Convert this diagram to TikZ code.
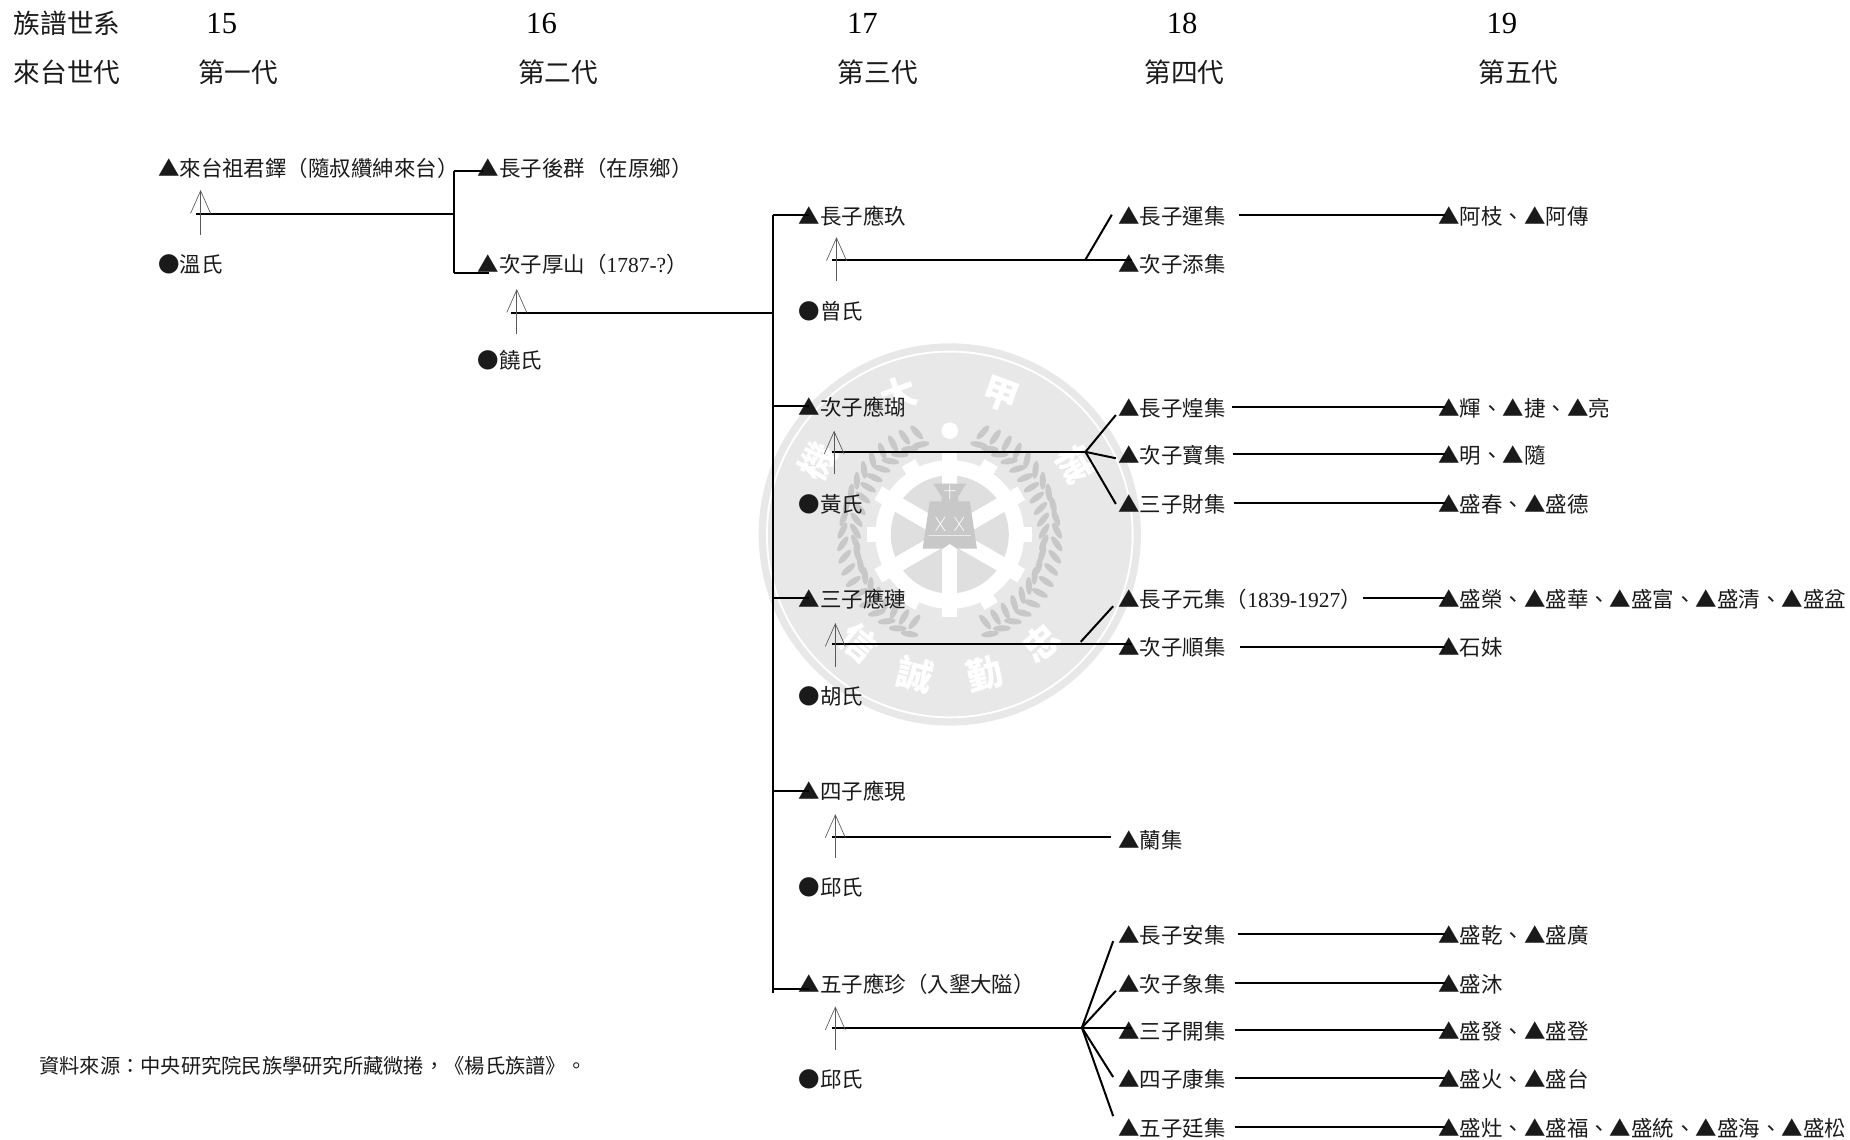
\documentclass[tikz,border=0pt]{standalone}
\usepackage{fontspec}
\usetikzlibrary{arrows.meta}
\setmainfont{Noto Sans CJK TC}
\newfontfamily\serifdigits{Liberation Serif}
\newcommand{\tri}{▲}
\newcommand{\dotm}{●}
\newcommand{\dg}[1]{{\serifdigits #1}}
\newcommand{\lpar}{^^^^ff08}
\newcommand{\rpar}{^^^^ff09}
\newcommand{\fcolon}{^^^^ff1a}
\newcommand{\fcomma}{^^^^ff0c}
\definecolor{sealbg}{HTML}{E8E8E8}
\definecolor{sealmid}{HTML}{DFDFDF}
\definecolor{sealdark}{HTML}{C8C8C8}
\definecolor{ink}{HTML}{1A1A1A}
\tikzset{
  lab/.style={anchor=west,inner sep=0pt,outer sep=0pt,text height=16pt,text depth=1.9pt,text=ink,font=\fontsize{16.1}{16.1}\selectfont},
  head/.style={anchor=center,inner sep=0pt,text=ink,font=\fontsize{20}{20}\selectfont},
  num/.style={anchor=center,inner sep=0pt,text=black,font=\fontsize{23}{23}\serifdigits},
  note/.style={anchor=west,inner sep=0pt,text=ink,font=\fontsize{15.2}{15.2}\selectfont},
  link/.style={draw=black,line width=1.5pt},
  spouse/.style={draw=black!65,line width=0.6pt,-{Straight Barb[length=17pt,width=15pt,line width=0.5pt]}},
  sealtxt/.style={inner sep=0pt,text=white,font=\fontsize{27}{27}\bfseries\selectfont},
  leaf/.style={fill=sealdark,draw=none}
}
\newcommand{\famlink}[3]{\draw[link] ([xshift=#3*0.885pt]#1.east) -- ([xshift=5pt]#2.west);}
\begin{document}
\begin{tikzpicture}[x=0.8849pt,y=-0.8849pt]
\useasboundingbox (0,0) rectangle (1568,965.4);
% seal watermark
\begin{scope}[shift={(805,453)},yscale=-1]
  \fill[sealbg] (0,0) circle (162);
  \draw[white,line width=1.4pt] (0,0) circle (155);
  % wreath
  \foreach \t in {108,115,...,248}{
    \foreach \s in {1,-1}{
      \pgfmathsetmacro{\a}{\s>0?\t:180-\t}
      \pgfmathsetmacro{\rotA}{\a-\s*60}
      \pgfmathsetmacro{\rotB}{\a-\s*120}
      \fill[leaf,shift={(\a:91)},rotate=\rotA] (0,0) ellipse (7.5 and 2.6);
      \fill[leaf,shift={(\a:80)},rotate=\rotB] (0,0) ellipse (7.5 and 2.6);
    }
  }
  \fill[white] (90:88) circle (7);
  % gear
  \foreach \g in {0,30,...,330}{
    \fill[white,rotate=\g] (58,-6.5) rectangle (70,6.5);
  }
  \fill[white] (0,0) circle (63);
  \fill[sealmid] (0,0) circle (50);
  \foreach \g in {30,90,...,330}{
    \fill[white,rotate=\g] (0,-6.5) rectangle (52,6.5);
  }
  % weight
  \fill[sealdark] (-14,43) -- (14,43) -- (7,32) -- (7,28) -- (17,28) -- (23,-12) -- (6,-12) -- (0,-8) -- (-6,-12) -- (-23,-12) -- (-17,28) -- (-7,28) -- (-7,32) -- cycle;
  \draw[white,line width=0.5pt] (0,42) -- (0,30) (-5,37) -- (5,37) (-18,-1) -- (18,-1) (-12,15) -- (-4,3) (-4,15) -- (-12,3) (4,15) -- (12,3) (12,15) -- (4,3);
  % seal characters
  \node[sealtxt,rotate=20] (sa) at (110:126) {大};
  \node[sealtxt,rotate=-20] (sb) at (70:126) {甲};
  \node[sealtxt,rotate=60] (sc) at (151:128) {機};
  \node[sealtxt,rotate=-60] (sd) at (29:122) {械};
  \node[sealtxt,rotate=-40] (se) at (230:120) {信};
  \node[sealtxt,rotate=-14] (sf) at (256:122) {誠};
  \node[sealtxt,rotate=14] (sg) at (284:122) {勤};
  \node[sealtxt,rotate=40] (sh) at (310:120) {忠};
\end{scope}

% headers
\node[head] (h1) at (57,20) {族譜世系};
\node[head] (h2) at (57,61) {來台世代};
\node[num] (n15) at (188,20) {15};
\node[num] (n16) at (459,20) {16};
\node[num] (n17) at (731,20) {17};
\node[num] (n18) at (1002,20) {18};
\node[num] (n19) at (1273,20) {19};
\node[head] (g1) at (202,61) {第一代};
\node[head] (g2) at (473,61) {第二代};
\node[head] (g3) at (744,61) {第三代};
\node[head] (g4) at (1004,61) {第四代};
\node[head] (g5) at (1287,61) {第五代};

% generation 1-2
\node[lab] (a1) at (134,142) {\tri 來台祖君鐸\lpar 隨叔纘紳來台\rpar};
\node[lab] (aw) at (134,223) {\dotm 溫氏};
\node[lab] (b1) at (405,142) {\tri 長子後群\lpar 在原鄉\rpar};
\node[lab] (b2) at (405,223) {\tri 次子厚山\lpar\dg{1787-?}\rpar};
\node[lab] (bw) at (405,304) {\dotm 饒氏};

% generation 3
\node[lab] (c1) at (677,182) {\tri 長子應玖};
\node[lab] (c1w) at (677,263) {\dotm 曾氏};
\node[lab] (c2) at (677,344) {\tri 次子應瑚};
\node[lab] (c2w) at (677,426) {\dotm 黃氏};
\node[lab] (c3) at (677,507) {\tri 三子應璉};
\node[lab] (c3w) at (677,589) {\dotm 胡氏};
\node[lab] (c4) at (677,670) {\tri 四子應現};
\node[lab] (c4w) at (677,751) {\dotm 邱氏};
\node[lab] (c5) at (677,833) {\tri 五子應珍\lpar 入墾大隘\rpar};
\node[lab] (c5w) at (677,914) {\dotm 邱氏};

% generation 4
\node[lab] (d11) at (948,182) {\tri 長子運集};
\node[lab] (d12) at (948,223) {\tri 次子添集};
\node[lab] (d21) at (948,345) {\tri 長子煌集};
\node[lab] (d22) at (948,385) {\tri 次子寶集};
\node[lab] (d23) at (948,426) {\tri 三子財集};
\node[lab] (d31) at (948,507) {\tri 長子元集\lpar\dg{1839-1927}\rpar};
\node[lab] (d32) at (948,548) {\tri 次子順集};
\node[lab] (d41) at (948,711) {\tri 蘭集};
\node[lab] (d51) at (948,792) {\tri 長子安集};
\node[lab] (d52) at (948,833) {\tri 次子象集};
\node[lab] (d53) at (948,873) {\tri 三子開集};
\node[lab] (d54) at (948,914) {\tri 四子康集};
\node[lab] (d55) at (948,955) {\tri 五子廷集};

% generation 5
\node[lab] (e11) at (1219,182) {\tri 阿枝、\tri 阿傳};
\node[lab] (e21) at (1219,345) {\tri 輝、\tri 捷、\tri 亮};
\node[lab] (e22) at (1219,385) {\tri 明、\tri 隨};
\node[lab] (e23) at (1219,426) {\tri 盛春、\tri 盛德};
\node[lab] (e31) at (1219,507) {\tri 盛榮、\tri 盛華、\tri 盛富、\tri 盛清、\tri 盛盆};
\node[lab] (e32) at (1219,548) {\tri 石妹};
\node[lab] (e51) at (1219,792) {\tri 盛乾、\tri 盛廣};
\node[lab] (e52) at (1219,833) {\tri 盛沐};
\node[lab] (e53) at (1219,873) {\tri 盛發、\tri 盛登};
\node[lab] (e54) at (1219,914) {\tri 盛火、\tri 盛台};
\node[lab] (e55) at (1219,955) {\tri 盛灶、\tri 盛福、\tri 盛統、\tri 盛海、\tri 盛松};

\node[note] (src) at (33,903) {資料來源\fcolon 中央研究院民族學研究所藏微捲\fcomma 《楊氏族譜》。};

% junction coordinates
\coordinate (j1t) at (385,145);
\coordinate (j1b) at (385,231);
\coordinate (j1m) at (385,181);
\coordinate (m1) at (166,181);
\coordinate (t1) at (655,182);
\coordinate (t2) at (655,842);
\coordinate (t0) at (655,265);
\coordinate (m2) at (433,265);
\coordinate (k1) at (920,220);
\coordinate (m31) at (705,220);
\coordinate (k2) at (920,383);
\coordinate (m32) at (705,383);
\coordinate (k3) at (916,544);
\coordinate (m33) at (705,546);
\coordinate (m34) at (705,709);
\coordinate (e34) at (942,709);
\coordinate (k5) at (917,871);
\coordinate (m35) at (705,871);

% first family
\draw[link] (j1t) -- (j1b);
\draw[link] (j1t) -- ([xshift=4pt]b1.west |- j1t);
\draw[link] (j1b) -- ([xshift=8pt]b2.west |- j1b);
\draw[link] (m1) -- (j1m);
\draw[link] (m2) -- (t0);
\draw[link] (t1) -- (t2);
\draw[link] (t1) -- ([xshift=8pt]c1.west);
\draw[link] (t1 |- c2.west) -- ([xshift=8pt]c2.west);
\draw[link] (t1 |- c3.west) -- ([xshift=8pt]c3.west);
\draw[link] (t1 |- c4.west) -- ([xshift=8pt]c4.west);
\coordinate (t5) at (655,838);
\draw[link] (t5) -- ([xshift=8pt]c5.west |- t5);

% families of generation 3
\draw[link] (m31) -- ([xshift=10pt]d12.west |- m31);
\draw[link] (k1) -- ([xshift=-5pt]d11.west);
\draw[link] (m32) -- (k2);
\draw[link] (k2) -- ([xshift=-2pt,yshift=-6pt]d21.west);
\draw[link] (k2) -- ([xshift=-2pt,yshift=-3pt]d22.west);
\draw[link] (k2) -- ([xshift=-2pt,yshift=-1pt]d23.west);
\draw[link] (m33) -- ([xshift=10pt]d32.west |- m33);
\draw[link] (k3) -- ([xshift=-4pt,yshift=-6pt]d31.west);
\draw[link] (m34) -- (e34);
\draw[link] (m35) -- ([xshift=10pt]d53.west |- m35);
\draw[link] (k5) -- ([xshift=-4pt,yshift=-5pt]d51.west);
\draw[link] (k5) -- ([xshift=-2pt,yshift=-6pt]d52.west);
\draw[link] (k5) -- ([xshift=-4pt,yshift=1pt]d54.west);
\draw[link] (k5) -- ([xshift=-4pt,yshift=8pt]d55.west);

% generation 4 to 5
\famlink{d11}{e11}{11}
\famlink{d21}{e21}{5}
\famlink{d22}{e22}{6}
\famlink{d23}{e23}{7}
\famlink{d31}{e31}{1}
\famlink{d32}{e32}{12}
\famlink{d51}{e51}{10}
\famlink{d52}{e52}{8}
\famlink{d53}{e53}{8}
\famlink{d54}{e54}{8}
\famlink{d55}{e55}{8}

% spouse arrows
\coordinate (p1a) at (170,199); \coordinate (p1b) at (170,161);
\coordinate (p2a) at (438,283); \coordinate (p2b) at (438,245);
\coordinate (p3a) at (709,238); \coordinate (p3b) at (709,201);
\coordinate (p4a) at (707,402); \coordinate (p4b) at (707,365);
\coordinate (p5a) at (708,565); \coordinate (p5b) at (708,528);
\coordinate (p6a) at (708,727); \coordinate (p6b) at (708,690);
\coordinate (p7a) at (708,890); \coordinate (p7b) at (708,853);
\foreach \i in {1,...,7}{\draw[spouse] (p\i a) -- (p\i b);}
\end{tikzpicture}
\end{document}
